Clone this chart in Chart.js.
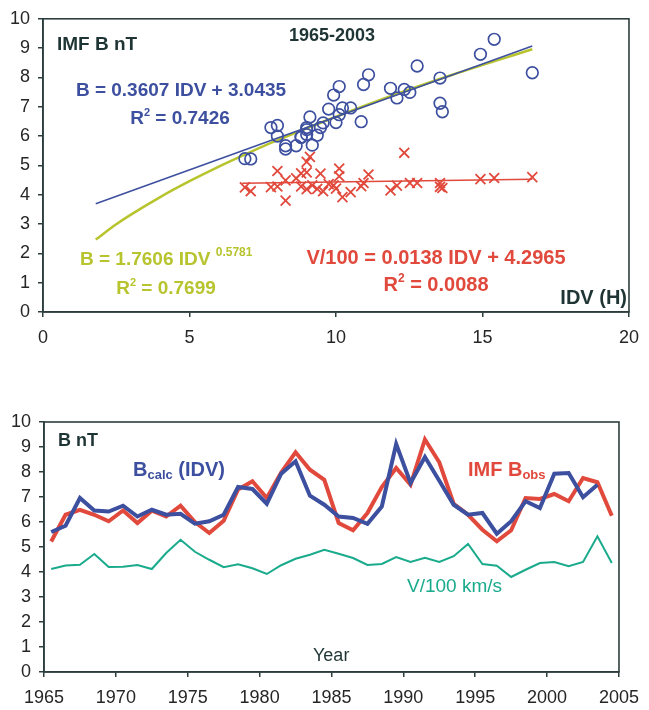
<!DOCTYPE html>
<html>
<head>
<meta charset="utf-8">
<script src="https://cdn.jsdelivr.net/npm/chart.js@4"></script>
<style>
  html, body { margin: 0; padding: 0; background: #fff; overflow: hidden; }
  canvas { position: absolute; left: 0; }
  #top { top: 0; }
  #bot { top: 345px; }
</style>
</head>
<body>
<canvas id="top" width="649" height="345"></canvas>
<canvas id="bot" width="649" height="365"></canvas>
<script>
// annual values 1965-2004
const years = [1965, 1966, 1967, 1968, 1969, 1970, 1971, 1972, 1973, 1974,
               1975, 1976, 1977, 1978, 1979, 1980, 1981, 1982, 1983, 1984,
               1985, 1986, 1987, 1988, 1989, 1990, 1991, 1992, 1993, 1994,
               1995, 1996, 1997, 1998, 1999, 2000, 2001, 2002, 2003, 2004];
const bObs = [5.22, 6.29, 6.49, 6.29, 6.03, 6.46, 5.96, 6.45, 6.22, 6.65,
              6.00, 5.56, 6.05, 7.30, 7.63, 6.96, 7.98, 8.79, 8.09, 7.69,
              5.96, 5.67, 6.36, 7.40, 8.16, 7.49, 9.30, 8.39, 6.73, 6.29,
              5.69, 5.23, 5.67, 6.96, 6.92, 7.12, 6.83, 7.76, 7.59, 6.25];
const bCalc = [5.60, 5.85, 6.96, 6.46, 6.42, 6.65, 6.22, 6.49, 6.29, 6.33,
               5.93, 6.03, 6.29, 7.40, 7.32, 6.73, 7.93, 8.43, 7.05, 6.69,
               6.22, 6.16, 5.93, 6.62, 9.12, 7.56, 8.60, 7.65, 6.69, 6.29,
               6.36, 5.53, 6.03, 6.83, 6.56, 7.93, 7.96, 6.99, 7.49];
const vSw = [4.12, 4.26, 4.29, 4.72, 4.20, 4.21, 4.28, 4.12, 4.76, 5.29,
             4.81, 4.49, 4.19, 4.31, 4.15, 3.92, 4.27, 4.53, 4.69, 4.89,
             4.73, 4.56, 4.28, 4.32, 4.60, 4.40, 4.57, 4.40, 4.63, 5.12,
             4.32, 4.25, 3.80, 4.09, 4.36, 4.40, 4.23, 4.40, 5.43, 4.36];
// IDV(H) per year 1965-2003
const idv = [7.09, 7.78, 10.86, 9.47, 9.36, 10.00, 8.81, 9.56, 9.00, 9.11,
             8.00, 8.28, 9.00, 12.08, 11.86, 10.22, 13.55, 14.93, 11.11, 10.11,
             8.81, 8.64, 8.00, 9.92, 16.70, 12.52, 15.40, 12.77, 10.11, 9.00,
             9.19, 6.89, 8.28, 10.50, 9.75, 13.55, 13.63, 10.94, 12.33];

// trend lines as drawn
const linX = [1.8, 16.7];
const linB = [3.69, 9.07];
const powX = [1.8, 2.5, 3, 4, 5, 6, 7, 8, 10, 12, 14, 16.7];
const powB = [2.47, 2.99, 3.32, 3.92, 4.46, 4.96, 5.42, 5.86, 6.66, 7.41, 8.10, 8.96];
const vFitX = [6.8, 16.7];
const vFit = [4.39, 4.53];

const BLUE = '#3d4f9f';
const RED = '#e0493c';
const YEL = '#b7c42e';
const TEAL = '#1aaa8c';
const DARK = '#1f3434';
const AX = '#2d3e3e';
const FONT = '"Liberation Sans", Arial, sans-serif';

const xy = (xs, ys) => xs.map((x, i) => ({ x: x, y: ys[i] }));

// plot frame on all four sides
const boxPlugin = {
    id: 'box',
    afterDraw(chart) {
        const { ctx, chartArea: a } = chart;
        ctx.save();
        ctx.strokeStyle = AX;
        ctx.lineWidth = 1.6;
        ctx.strokeRect(a.left, a.top, a.right - a.left, a.bottom - a.top);
        ctx.restore();
    }
};

// text with optional sub/superscript pieces: parts = [[text, size, dy], ...]
function label(ctx, parts, x, y, color, bold, align) {
    ctx.save();
    ctx.fillStyle = color;
    ctx.textBaseline = 'middle';
    ctx.textAlign = 'left';
    const w = bold ? 'bold ' : '';
    let total = 0;
    parts.forEach(p => { ctx.font = w + p[1] + 'px ' + FONT; total += ctx.measureText(p[0]).width; });
    let cx = align === 'center' ? x - total / 2 : align === 'right' ? x - total : x;
    parts.forEach(p => {
        ctx.font = w + p[1] + 'px ' + FONT;
        ctx.fillText(p[0], cx, y + (p[2] || 0));
        cx += ctx.measureText(p[0]).width;
    });
    ctx.restore();
}

function axisOpts(min, max, step, size, pad, fmt) {
    return {
        type: 'linear', min: min, max: max,
        ticks: {
            stepSize: step, autoSkip: false, maxRotation: 0, color: '#262626', padding: pad,
            font: { family: FONT, size: 18 },
            callback: v => fmt ? String(v) : v
        },
        grid: { drawOnChartArea: false, tickLength: 5, tickColor: AX, lineWidth: 1.5 },
        border: { color: AX, width: 1.6 },
        afterFit: size
    };
}

// ---- upper chart: B and V/100 against IDV
const topText = {
    id: 'topText',
    afterDraw(chart) {
        const ctx = chart.ctx;
        label(ctx, [['IMF B nT', 19]], 57, 45, DARK, true, 'left');
        label(ctx, [['1965-2003', 18]], 332, 36, DARK, true, 'center');
        label(ctx, [['B = 0.3607 IDV + 3.0435', 19]], 181, 91, BLUE, true, 'center');
        label(ctx, [['R', 19], ['2', 11, -6], [' = 0.7426', 19]], 180, 119, BLUE, true, 'center');
        label(ctx, [['B = 1.7606 IDV ', 19], ['0.5781', 12, -7]], 80, 260, YEL, true, 'left');
        label(ctx, [['R', 19], ['2', 11, -6], [' = 0.7699', 19]], 166, 289, YEL, true, 'center');
        label(ctx, [['V/100 = 0.0138 IDV + 4.2965', 20]], 436, 258, RED, true, 'center');
        label(ctx, [['R', 20], ['2', 12, -6], [' = 0.0088', 20]], 436, 285, RED, true, 'center');
        label(ctx, [['IDV (H)', 20]], 627, 298, DARK, true, 'right');
    }
};

new Chart(document.getElementById('top'), {
    type: 'scatter',
    data: {
        datasets: [
            { data: xy(idv, bObs), pointStyle: 'circle', pointRadius: 5.8, borderWidth: 1.7,
              borderColor: BLUE, backgroundColor: 'rgba(0,0,0,0)', order: 0 },
            { data: xy(idv, vSw), pointStyle: 'crossRot', pointRadius: 7, borderWidth: 1.8,
              borderColor: RED, backgroundColor: RED, order: 0 },
            { type: 'line', data: xy(linX, linB), borderColor: BLUE, borderWidth: 1.5, pointRadius: 0, order: 1 },
            { type: 'line', data: xy(powX, powB), borderColor: YEL, borderWidth: 2.5, pointRadius: 0,
              cubicInterpolationMode: 'monotone', order: 2 },
            { type: 'line', data: xy(vFitX, vFit), borderColor: RED, borderWidth: 1.5, pointRadius: 0, order: 1 }
        ]
    },
    options: {
        responsive: false, animation: false, devicePixelRatio: 1,
        layout: { padding: { top: 15, right: 12, left: 0, bottom: 0 } },
        plugins: { legend: { display: false }, tooltip: { enabled: false } },
        scales: {
            x: axisOpts(0, 20, 5, s => { s.height = 33; }, 10, false),
            y: axisOpts(0, 10, 1, s => { s.width = 43; }, 8, false)
        }
    },
    plugins: [boxPlugin, topText]
});

// ---- lower chart: time series
const mid = years.map(y => y + 0.5);
const botText = {
    id: 'botText',
    afterDraw(chart) {
        const ctx = chart.ctx;
        const o = 345;
        label(ctx, [['B nT', 18]], 58, 441 - o, DARK, true, 'left');
        label(ctx, [['B', 20], ['calc', 13, 5], [' (IDV)', 20]], 133, 470 - o, BLUE, true, 'left');
        label(ctx, [['IMF B', 20], ['obs', 13, 5]], 468, 470 - o, RED, true, 'left');
        label(ctx, [['V/100 km/s', 19]], 502, 587 - o, TEAL, false, 'right');
        label(ctx, [['Year', 18]], 313, 656 - o, DARK, false, 'left');
    }
};

new Chart(document.getElementById('bot'), {
    type: 'line',
    data: {
        datasets: [
            { data: xy(mid, bCalc), borderColor: BLUE, borderWidth: 4, pointRadius: 0, order: 0 },
            { data: xy(mid, bObs), borderColor: RED, borderWidth: 4, pointRadius: 0, order: 1 },
            { data: xy(mid, vSw), borderColor: TEAL, borderWidth: 2, pointRadius: 0, order: 2 }
        ]
    },
    options: {
        responsive: false, animation: false, devicePixelRatio: 1,
        layout: { padding: { top: 77, right: 23, left: 0, bottom: 0 } },
        plugins: { legend: { display: false }, tooltip: { enabled: false } },
        scales: {
            x: axisOpts(1965, 2005, 5, s => { s.height = 38; }, 10, true),
            y: axisOpts(0, 10, 1, s => { s.width = 44; }, 8, false)
        }
    },
    plugins: [boxPlugin, botText]
});
</script>
</body>
</html>
